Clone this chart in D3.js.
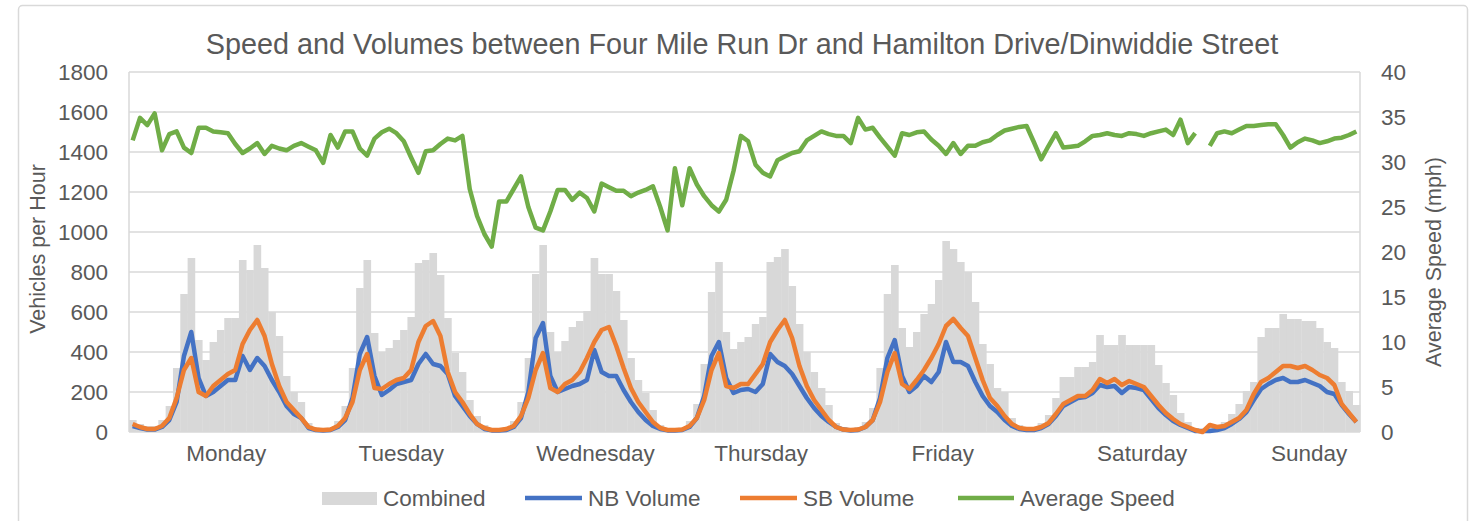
<!DOCTYPE html>
<html>
<head>
<meta charset="utf-8">
<script src="https://cdn.jsdelivr.net/npm/d3@7"></script>
<style>
  body { margin: 0; background: #fff; }
  svg { display: block; font-family: "Liberation Sans", Arial, sans-serif; }
</style>
</head>
<body>
<div id="chart"></div>
<script>
// hourly values, Monday 0:00 .. Sunday 23:00 (168 hours)
var combined = [
    60, 40, 30, 30, 60, 130, 320, 690, 870, 460, 360, 450, 510, 570, 570, 860, 810, 935, 820, 600, 480, 280, 200, 150,
    45, 22, 18, 22, 55, 130, 320, 720, 860, 495, 400, 420, 460, 510, 575, 845, 860, 895, 785, 570, 395, 300, 160, 80,
    35, 18, 18, 25, 55, 150, 370, 790, 935, 500, 400, 455, 525, 555, 605, 870, 790, 790, 705, 560, 370, 260, 195, 110,
    35, 20, 20, 22, 55, 140, 340, 700, 850, 500, 415, 450, 475, 540, 575, 850, 875, 915, 730, 540, 400, 300, 220, 135,
    45, 25, 20, 25, 50, 120, 320, 690, 835, 520, 425, 500, 590, 640, 760, 955, 915, 850, 800, 650, 440, 340, 220, 200,
    70, 35, 25, 25, 45, 85, 170, 275, 275, 325, 325, 350, 485, 435, 435, 485, 435, 435, 435, 435, 335, 245, 185, 95,
    50, 20, 15, 30, 35, 50, 90, 140, 205, 250, 475, 520, 520, 590, 565, 565, 555, 555, 520, 450, 420, 250, 205, 135
];

var nbVolume = [
    30, 20, 12, 12, 25, 60, 150, 380, 500, 270, 180, 200, 230, 260, 260, 380, 310, 370, 330, 260, 200, 130, 90, 70,
    20, 10, 8, 10, 25, 60, 170, 390, 475, 280, 185, 210, 240, 250, 260, 340, 390, 340, 330, 290, 180, 130, 80, 40,
    15, 8, 8, 10, 25, 70, 200, 470, 545, 280, 200, 215, 230, 240, 260, 410, 300, 280, 280, 210, 150, 100, 60, 30,
    15, 8, 8, 10, 25, 70, 180, 380, 450, 270, 195, 210, 215, 200, 240, 390, 350, 330, 290, 230, 170, 120, 80, 50,
    25, 12, 8, 10, 25, 60, 170, 370, 460, 280, 200, 230, 280, 250, 300, 450, 350, 350, 330, 250, 180, 130, 100, 60,
    30, 15, 10, 10, 20, 40, 80, 130, 150, 170, 175, 195, 235, 225, 230, 195, 225, 220, 210, 165, 120, 85, 55, 35,
    20, 5, 5, 5, 10, 20, 40, 65, 100, 160, 215, 240, 260, 270, 250, 250, 260, 245, 230, 200, 190, 135, 90, 50
];

var sbVolume = [
    40, 25, 15, 15, 30, 70, 170, 310, 370, 200, 180, 230, 260, 290, 310, 440, 510, 560, 480, 340, 230, 150, 110, 70,
    25, 12, 10, 12, 30, 70, 150, 310, 390, 220, 215, 240, 260, 270, 310, 450, 530, 555, 480, 300, 200, 150, 90, 40,
    20, 10, 10, 15, 30, 80, 170, 310, 395, 220, 200, 240, 260, 300, 370, 450, 510, 525, 430, 320, 220, 150, 100, 50,
    20, 10, 10, 12, 30, 70, 160, 310, 395, 230, 220, 240, 240, 290, 340, 450, 510, 560, 470, 330, 230, 160, 110, 60,
    25, 12, 10, 12, 25, 60, 150, 300, 395, 240, 215, 260, 310, 370, 440, 530, 565, 520, 480, 370, 260, 170, 130, 80,
    40, 20, 15, 15, 25, 45, 90, 140, 160, 180, 180, 210, 265, 245, 265, 235, 255, 240, 225, 180, 135, 95, 65, 40,
    25, 10, 0, 35, 25, 30, 50, 70, 110, 190, 250, 270, 300, 330, 330, 320, 330, 310, 285, 270, 235, 140, 95, 50
];

// mph, null where no reading
var avgSpeed = [
    32.4, 34.9, 34.1, 35.4, 31.3, 33.1, 33.4, 31.6, 31.0, 33.8, 33.8, 33.4, 33.3, 33.2, 32.0, 31.0, 31.5, 32.1, 30.9, 31.8, 31.5, 31.3, 31.8, 32.1,
    31.7, 31.3, 29.9, 33.0, 31.6, 33.4, 33.4, 31.5, 30.7, 32.6, 33.3, 33.7, 33.2, 32.3, 30.5, 28.8, 31.2, 31.3, 32.0, 32.6, 32.4, 32.9, 27.0, 24.0,
    22.0, 20.6, 25.6, 25.6, 27.0, 28.4, 25.0, 22.7, 22.4, 24.5, 26.9, 26.9, 25.8, 26.6, 26.0, 24.5, 27.6, 27.2, 26.8, 26.8, 26.2, 26.6, 26.9, 27.3,
    25.0, 22.4, 29.3, 25.2, 29.3, 27.5, 26.2, 25.2, 24.5, 25.8, 29.0, 32.9, 32.3, 29.7, 28.8, 28.4, 30.2, 30.6, 31.0, 31.2, 32.4, 32.9, 33.4, 33.1,
    32.9, 32.9, 32.1, 34.9, 33.6, 33.8, 32.7, 31.7, 30.7, 33.2, 33.0, 33.3, 33.4, 32.5, 31.8, 30.9, 32.1, 30.9, 31.8, 31.8, 32.2, 32.4, 33.0, 33.5,
    33.7, 33.9, 34.0, 32.2, 30.3, 31.8, 33.2, 31.6, 31.7, 31.8, 32.3, 32.9, 33.0, 33.2, 33.0, 32.9, 33.2, 33.1, 32.9, 33.2, 33.4, 33.6, 33.0, 34.7,
    32.1, 33.2, null, 31.8, 33.2, 33.4, 33.2, 33.6, 34.0, 34.0, 34.1, 34.2, 34.2, 33.0, 31.6, 32.2, 32.6, 32.4, 32.1, 32.3, 32.6, 32.7, 33.0, 33.4
];

var dayNames = ['Monday', 'Tuesday', 'Wednesday', 'Thursday', 'Friday', 'Saturday', 'Sunday'];
var dayLabelHours = [13.2, 37.1, 63.6, 86.2, 111.0, 138.2, 161.0];
var volumeTicks = [0, 200, 400, 600, 800, 1000, 1200, 1400, 1600, 1800];
var speedTicks = [0, 5, 10, 15, 20, 25, 30, 35, 40];

var width = 1476;
var height = 521;
var plot = { left: 129, right: 1360, top: 72, bottom: 432 };
var textColor = '#595959';
var gridColor = '#d9d9d9';
var labelSize = '22.5px';

var svg = d3.select('#chart')
    .append('svg')
    .attr('width', width)
    .attr('height', height);

svg.append('rect')
    .attr('width', width)
    .attr('height', height)
    .attr('fill', '#fff');

// chart frame
svg.append('rect')
    .attr('x', 18.5)
    .attr('y', 5.5)
    .attr('width', 1449)
    .attr('height', 540)
    .attr('rx', 4)
    .attr('fill', 'none')
    .attr('stroke', gridColor)
    .attr('stroke-width', 1.5);

var x = d3.scaleLinear().domain([0, 168]).range([plot.left, plot.right]);
var yVol = d3.scaleLinear().domain([0, 1800]).range([plot.bottom, plot.top]);
var ySpeed = d3.scaleLinear().domain([0, 40]).range([plot.bottom, plot.top]);

// gridlines
svg.append('g')
    .selectAll('line')
    .data(volumeTicks)
    .enter()
    .append('line')
    .attr('x1', plot.left)
    .attr('x2', plot.right)
    .attr('y1', function(d) { return yVol(d); })
    .attr('y2', function(d) { return yVol(d); })
    .attr('stroke', gridColor)
    .attr('stroke-width', 1.5);

svg.append('g')
    .selectAll('line')
    .data([0, 168])
    .enter()
    .append('line')
    .attr('x1', function(d) { return x(d); })
    .attr('x2', function(d) { return x(d); })
    .attr('y1', plot.top)
    .attr('y2', plot.bottom)
    .attr('stroke', gridColor)
    .attr('stroke-width', 1.5);

// combined bars
svg.append('g')
    .selectAll('rect')
    .data(combined)
    .enter()
    .append('rect')
    .attr('x', function(d, i) { return x(i); })
    .attr('width', x(1) - x(0) + 0.3)
    .attr('y', function(d) { return yVol(d); })
    .attr('height', function(d) { return yVol(0) - yVol(d); })
    .attr('fill', '#d8d8d8');

var volLine = d3.line()
    .x(function(d, i) { return x(i + 0.5); })
    .y(function(d) { return yVol(d); });

var speedLine = d3.line()
    .defined(function(d) { return d !== null; })
    .x(function(d, i) { return x(i + 0.5); })
    .y(function(d) { return ySpeed(d); });

svg.append('path')
    .datum(nbVolume)
    .attr('d', volLine)
    .attr('fill', 'none')
    .attr('stroke', '#4472c4')
    .attr('stroke-width', 4.5)
    .attr('stroke-linejoin', 'round');

svg.append('path')
    .datum(sbVolume)
    .attr('d', volLine)
    .attr('fill', 'none')
    .attr('stroke', '#ed7d31')
    .attr('stroke-width', 4.5)
    .attr('stroke-linejoin', 'round');

svg.append('path')
    .datum(avgSpeed)
    .attr('d', speedLine)
    .attr('fill', 'none')
    .attr('stroke', '#70ad47')
    .attr('stroke-width', 4.5)
    .attr('stroke-linejoin', 'round');

// axes (labels only, no lines)
var leftAxis = svg.append('g')
    .attr('transform', 'translate(' + (plot.left - 12) + ',0)')
    .call(d3.axisLeft(yVol).tickValues(volumeTicks).tickFormat(d3.format('d'))
        .tickSize(0).tickPadding(9));

var rightAxis = svg.append('g')
    .attr('transform', 'translate(' + (plot.right + 12) + ',0)')
    .call(d3.axisRight(ySpeed).tickValues(speedTicks).tickSize(0).tickPadding(9));

var bottomAxis = svg.append('g')
    .attr('transform', 'translate(0,' + (plot.bottom + 5) + ')')
    .call(d3.axisBottom(x).tickValues(dayLabelHours)
        .tickFormat(function(d, i) { return dayNames[i]; })
        .tickSize(0).tickPadding(8));

[leftAxis, rightAxis, bottomAxis].forEach(function(a) {
    a.select('.domain').remove();
    a.selectAll('text')
        .attr('fill', textColor)
        .style('font-size', labelSize)
        .style('font-family', '"Liberation Sans", Arial, sans-serif');
});

// titles
svg.append('text')
    .attr('x', 742)
    .attr('y', 54)
    .attr('text-anchor', 'middle')
    .attr('fill', textColor)
    .style('font-size', '28.8px')
    .text('Speed and Volumes between Four Mile Run Dr and Hamilton Drive/Dinwiddie Street');

svg.append('text')
    .attr('transform', 'translate(45,249) rotate(-90)')
    .attr('text-anchor', 'middle')
    .attr('fill', textColor)
    .style('font-size', '21.5px')
    .text('Vehicles per Hour');

svg.append('text')
    .attr('transform', 'translate(1441,262) rotate(-90)')
    .attr('text-anchor', 'middle')
    .attr('fill', textColor)
    .style('font-size', '21.5px')
    .text('Average Speed (mph)');

// legend
var legendItems = [
    { label: 'Combined', color: '#d8d8d8', type: 'rect', x0: 322, x1: 377 },
    { label: 'NB Volume', color: '#4472c4', type: 'line', x0: 525, x1: 582 },
    { label: 'SB Volume', color: '#ed7d31', type: 'line', x0: 740, x1: 797 },
    { label: 'Average Speed', color: '#70ad47', type: 'line', x0: 958, x1: 1014 }
];
var legendY = 498;

var legend = svg.selectAll('.legend')
    .data(legendItems)
    .enter()
    .append('g')
    .attr('class', 'legend');

legend.filter(function(d) { return d.type === 'rect'; })
    .append('rect')
    .attr('x', function(d) { return d.x0; })
    .attr('y', legendY - 6)
    .attr('width', function(d) { return d.x1 - d.x0; })
    .attr('height', 13)
    .attr('fill', function(d) { return d.color; });

legend.filter(function(d) { return d.type === 'line'; })
    .append('line')
    .attr('x1', function(d) { return d.x0; })
    .attr('x2', function(d) { return d.x1; })
    .attr('y1', legendY)
    .attr('y2', legendY)
    .attr('stroke', function(d) { return d.color; })
    .attr('stroke-width', 4.5);

legend.append('text')
    .attr('x', function(d) { return d.x1 + 6; })
    .attr('y', legendY)
    .attr('dy', '0.35em')
    .attr('fill', textColor)
    .style('font-size', labelSize)
    .text(function(d) { return d.label; });
</script>
</body>
</html>
